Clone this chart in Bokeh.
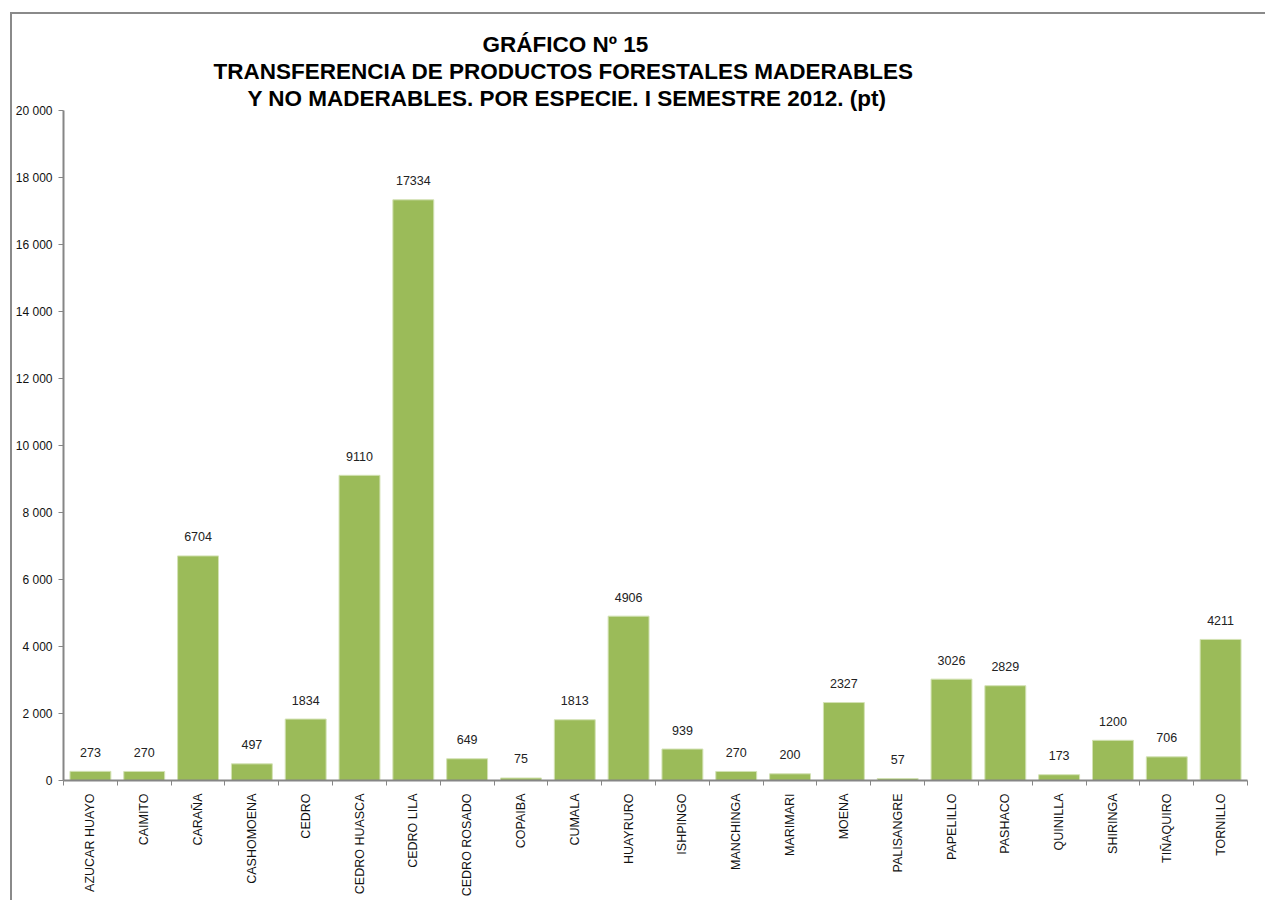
from bokeh.plotting import figure
from bokeh.models import Title, FixedTicker, Range1d, ColumnDataSource
from bokeh.embed import file_html
from bokeh.resources import INLINE
from bokeh.core.properties import value
import math

species = ["AZUCAR HUAYO", "CAIMITO", "CARAÑA", "CASHOMOENA", "CEDRO", "CEDRO HUASCA",
           "CEDRO LILA", "CEDRO ROSADO", "COPAIBA", "CUMALA", "HUAYRURO", "ISHPINGO",
           "MANCHINGA", "MARIMARI", "MOENA", "PALISANGRE", "PAPELILLO", "PASHACO",
           "QUINILLA", "SHIRINGA", "TIÑAQUIRO", "TORNILLO"]
volumes = [273, 270, 6704, 497, 1834, 9110, 17334, 649, 75, 1813, 4906, 939,
           270, 200, 2327, 57, 3026, 2829, 173, 1200, 706, 4211]
y_ticks = [0, 2000, 4000, 6000, 8000, 10000, 12000, 14000, 16000, 18000, 20000]
y_tick_labels = ["0", "2 000", "4 000", "6 000", "8 000", "10 000", "12 000",
                 "14 000", "16 000", "18 000", "20 000"]
title_lines = ["GRÁFICO Nº 15",
               "TRANSFERENCIA DE PRODUCTOS FORESTALES MADERABLES",
               "Y NO MADERABLES. POR ESPECIE. I SEMESTRE 2012.  (pt)"]
title_offsets = [419, 150, 184]

n = len(species)
xs = [i + 0.5 for i in range(n)]
src = ColumnDataSource(dict(x=xs, top=volumes, label=[str(v) for v in volumes]))

FONT = "Liberation Sans"
GRAY = "#868686"

p = figure(width=1255, height=888, output_backend="svg", toolbar_location=None,
           x_range=Range1d(0, n), y_range=Range1d(0, 20000),
           min_border_left=50, min_border_top=96, min_border_right=20, min_border_bottom=122)
p.styles = {"border-top": "2px solid #8a8a8a", "border-left": "2px solid #8a8a8a",
            "margin-left": "10px", "margin-top": "12px"}
p.outline_line_color = None
p.grid.visible = False
p.background_fill_color = "white"
p.border_fill_color = "white"

p.vbar(x="x", top="top", width=0.76, source=src, fill_color="#9BBB59",
       line_color="#d3e2b4", line_width=1)
p.text(x="x", y="top", text="label", source=src, text_align="center",
       text_baseline="middle", y_offset=-19, text_font=value(FONT),
       text_font_size="12.5px", text_color="#222222")

xa = p.xaxis[0]
xa.ticker = FixedTicker(ticks=xs, minor_ticks=list(range(n + 1)))
xa.major_label_overrides = {x: s for x, s in zip(xs, species)}
xa.major_label_orientation = math.pi / 2
xa.major_tick_out = 0
xa.major_tick_in = 0
xa.minor_tick_out = 5
xa.minor_tick_in = 0
xa.minor_tick_line_color = GRAY
xa.axis_line_color = GRAY
xa.axis_line_width = 2
xa.major_label_text_font = FONT
xa.major_label_text_font_size = "12.5px"
xa.major_label_text_color = "#111111"
xa.major_label_standoff = 8

ya = p.yaxis[0]
ya.ticker = FixedTicker(ticks=y_ticks, minor_ticks=[])
ya.major_label_overrides = {t: s for t, s in zip(y_ticks, y_tick_labels)}
ya.major_tick_out = 5
ya.major_tick_in = 0
ya.major_tick_line_color = GRAY
ya.axis_line_color = GRAY
ya.axis_line_width = 2
ya.major_label_text_font = FONT
ya.major_label_text_font_size = "12px"
ya.major_label_text_color = "#111111"
ya.major_label_standoff = 6

# first added sits nearest the plot frame
for line, off in reversed(list(zip(title_lines, title_offsets))):
    p.add_layout(Title(text=line, align="left", offset=off, standoff=0,
                       text_font=FONT, text_font_size="22.5px", text_font_style="bold",
                       text_color="#000000"), "above")

open("out.html", "w").write(file_html(p, INLINE))
